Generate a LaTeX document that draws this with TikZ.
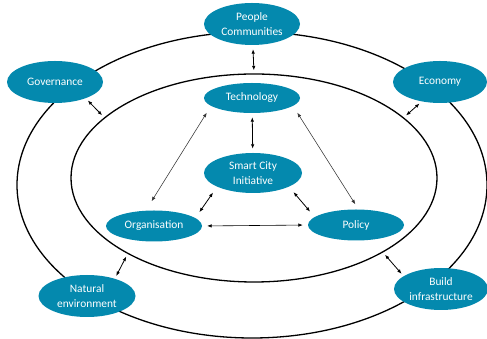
\documentclass[tikz,border=0pt]{standalone}
\usepackage{fontspec}
\setmainfont{Carlito}
\usetikzlibrary{shapes.geometric,arrows.meta}
\definecolor{teal}{HTML}{0489AE}
\tikzset{
  bubble/.style={ellipse, fill=teal, text=white, align=center, inner sep=0pt,
    font=\fontsize{11.4}{14.5}\selectfont},
  ring/.style={ellipse, draw=black, line width=1.3pt, inner sep=0pt},
  link/.style={<->, line width=0.8pt},
  thin link/.style={<->, line width=0.55pt, draw=black!80}
}
\begin{document}
\begin{tikzpicture}[x=1pt,y=1pt,>={Latex[length=4.5pt,width=3.5pt]}]
  \useasboundingbox (0,0) rectangle (487,339);
  % Rings
  \node[ring, minimum width=470pt, minimum height=306pt] (outer) at (252,154) {};
  \node[ring, minimum width=366pt, minimum height=208pt] (inner) at (254,161) {};

  % Outer nodes
  \node[bubble, minimum width=96pt, minimum height=42pt] (people) at (252,315) {People\\Communities};
  \node[bubble, minimum width=96pt, minimum height=42pt] (gov) at (55,257) {Governance};
  \node[bubble, minimum width=94pt, minimum height=42pt] (eco) at (440,257) {Economy};
  \node[bubble, minimum width=97pt, minimum height=42pt] (nat) at (87,43) {Natural\\environment};
  \node[bubble, minimum width=94pt, minimum height=42pt] (build) at (441,50) {Build\\infrastructure};

  % Inner nodes
  \node[bubble, minimum width=96pt, minimum height=30pt] (tech) at (252,241) {Technology};
  \node[bubble, minimum width=98pt, minimum height=40pt] (smart) at (253,166) {Smart City\\Initiative};
  \node[bubble, minimum width=96pt, minimum height=31pt] (org) at (154,113) {Organisation};
  \node[bubble, minimum width=96pt, minimum height=31pt] (pol) at (356,114) {Policy};

  % Outer links
  \draw[link, shorten <=4pt, shorten >=3pt] (people) -- (inner.north);
  \draw[link, shorten <=3pt, shorten >=3pt] (gov.-28) -- (inner.158);
  \draw[link, shorten <=3pt, shorten >=3pt] (eco.-133) -- (inner.22);
  \draw[link, shorten <=3pt, shorten >=3pt] (nat.32) -- (inner.211);
  \draw[link, shorten <=3pt, shorten >=3pt] (build.161) -- (inner.-30);

  % Inner links
  \draw[link, shorten <=4pt, shorten >=4pt] (tech) -- (smart);
  \draw[thin link, shorten <=8pt, shorten >=11pt] (tech.191) -- (org.118);
  \draw[thin link, shorten <=8pt, shorten >=6pt] (tech.-11) -- (pol.81);
  \draw[link, shorten <=7pt, shorten >=7pt] (smart.201) -- (org.11);
  \draw[link, shorten <=7pt, shorten >=7pt] (smart.-21) -- (pol.169);
  \draw[link, line width=0.6pt, shorten <=5pt, shorten >=5pt] (org.east) -- (pol.west);
\end{tikzpicture}
\end{document}
